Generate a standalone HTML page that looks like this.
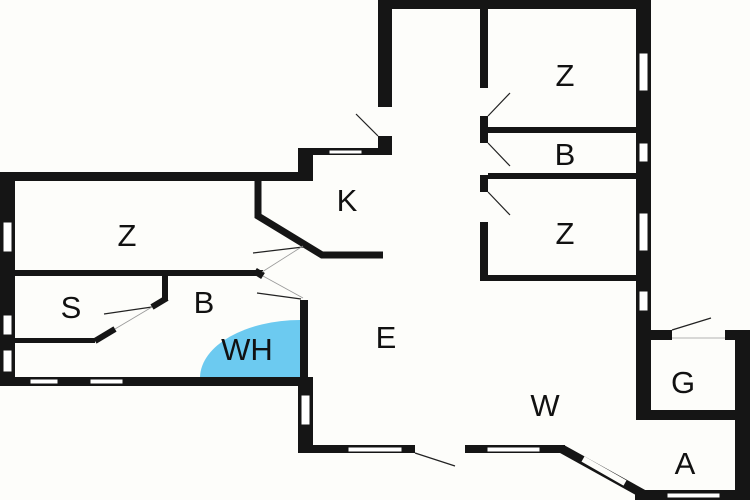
<!DOCTYPE html>
<html><head><style>html,body{margin:0;padding:0;background:#fdfdfa;}svg{display:block}text{font-family:"Liberation Sans",sans-serif;font-size:31px;fill:#111;text-anchor:middle}</style></head><body>
<svg width="750" height="500" viewBox="0 0 750 500" xmlns="http://www.w3.org/2000/svg">
<rect width="750" height="500" fill="#fdfdfa"/>
<path d="M300,377 L300,320 A100,58 0 0 0 200,377 Z" fill="#6ccaf0"/>
<g fill="#151515">
<!-- top section -->
<rect x="378" y="0" width="273" height="9"/>
<rect x="378" y="0" width="14" height="107"/>
<rect x="378" y="136" width="14" height="19"/>
<rect x="300" y="148" width="92" height="7"/>
<rect x="298" y="148" width="15" height="32"/>
<rect x="636" y="0" width="15" height="330"/>
<rect x="480" y="9" width="8" height="79"/>
<rect x="480" y="116" width="8" height="27"/>
<rect x="480" y="175" width="8" height="17"/>
<rect x="480" y="222" width="8" height="58"/>
<rect x="488" y="127" width="148" height="6"/>
<rect x="488" y="173" width="148" height="6"/>
<rect x="480" y="275" width="156" height="6"/>
<!-- left block -->
<rect x="0" y="172" width="313" height="9"/>
<rect x="0" y="172" width="15" height="213"/>
<rect x="15" y="270" width="248" height="6"/>
<rect x="0" y="377" width="310" height="9"/>
<rect x="162" y="273" width="6" height="28"/>
<rect x="15" y="338" width="80" height="5"/>
<rect x="300" y="300" width="8" height="85"/>
<rect x="298" y="377" width="15" height="76"/>
<rect x="298" y="445" width="267" height="8"/>
</g>
<g stroke="#151515" fill="none">
<polyline points="258,180 258,216 322,255 383,255" stroke-width="7"/>
<line x1="167" y1="298" x2="152" y2="307" stroke-width="6"/>
<line x1="115" y1="329" x2="95" y2="341" stroke-width="6"/>
<line x1="562" y1="449" x2="645" y2="495" stroke-width="9"/>
<line x1="255" y1="271" x2="263" y2="276" stroke-width="7"/>
</g>
<g fill="#151515">
<rect x="635" y="490" width="115" height="10"/>
<rect x="735" y="330" width="15" height="170"/>
<rect x="636" y="300" width="15" height="120"/>
<rect x="636" y="410" width="100" height="10"/>
<rect x="651" y="330" width="21" height="10"/>
<rect x="725" y="330" width="25" height="10"/>
</g>
<!-- windows -->
<g fill="#fff" stroke="#151515" stroke-width="1">
<rect x="329" y="150" width="33" height="4"/>
<rect x="639" y="53" width="9" height="38"/>
<rect x="639" y="143" width="9" height="19"/>
<rect x="639" y="213" width="9" height="38"/>
<rect x="639" y="291" width="9" height="20"/>
<rect x="3" y="222" width="9" height="30"/>
<rect x="3" y="315" width="9" height="20"/>
<rect x="3" y="350" width="9" height="22"/>
<rect x="30" y="379" width="28" height="5"/>
<rect x="90" y="379" width="33" height="5"/>
<rect x="301" y="395" width="9" height="30"/>
<rect x="348" y="447" width="54" height="5"/>
<rect x="487" y="447" width="53" height="5"/>
<rect x="667" y="493" width="53" height="5"/>
</g>
<g stroke="#fdfdfa" stroke-width="6"><line x1="583" y1="459" x2="625" y2="483"/></g>
<rect x="415" y="444" width="50" height="10" fill="#fdfdfa"/>
<rect x="672" y="329" width="53" height="12" fill="#fdfdfa"/>
<!-- door swings -->
<g stroke="#222" stroke-width="1.2" fill="none">
<line x1="378" y1="136" x2="356" y2="114"/>
<line x1="488" y1="116" x2="510" y2="93"/>
<line x1="488" y1="143" x2="510" y2="166"/>
<line x1="488" y1="192" x2="510" y2="215"/>
<line x1="303" y1="95" x2="303" y2="95"/>
<line x1="303" y1="247" x2="253" y2="253"/>
<line x1="301" y1="299" x2="257" y2="293"/>
<line x1="152" y1="307" x2="104" y2="314"/>
<line x1="415" y1="453" x2="455" y2="466"/>
<line x1="672" y1="330" x2="711" y2="318"/>
</g>
<g stroke="#999" stroke-width="0.8" fill="none">
<line x1="262" y1="272" x2="303" y2="246"/>
<line x1="263" y1="276" x2="303" y2="298"/>
<line x1="152" y1="307" x2="115" y2="329"/>
<line x1="672" y1="338" x2="725" y2="338"/>
</g>
<text x="565" y="86">Z</text>
<text x="565" y="165">B</text>
<text x="565" y="244">Z</text>
<text x="347" y="211">K</text>
<text x="127" y="246">Z</text>
<text x="71" y="318">S</text>
<text x="204" y="313">B</text>
<text x="247" y="360">WH</text>
<text x="386" y="348">E</text>
<text x="545" y="416">W</text>
<text x="683" y="393">G</text>
<text x="685" y="474">A</text>
</svg>
</body></html>
